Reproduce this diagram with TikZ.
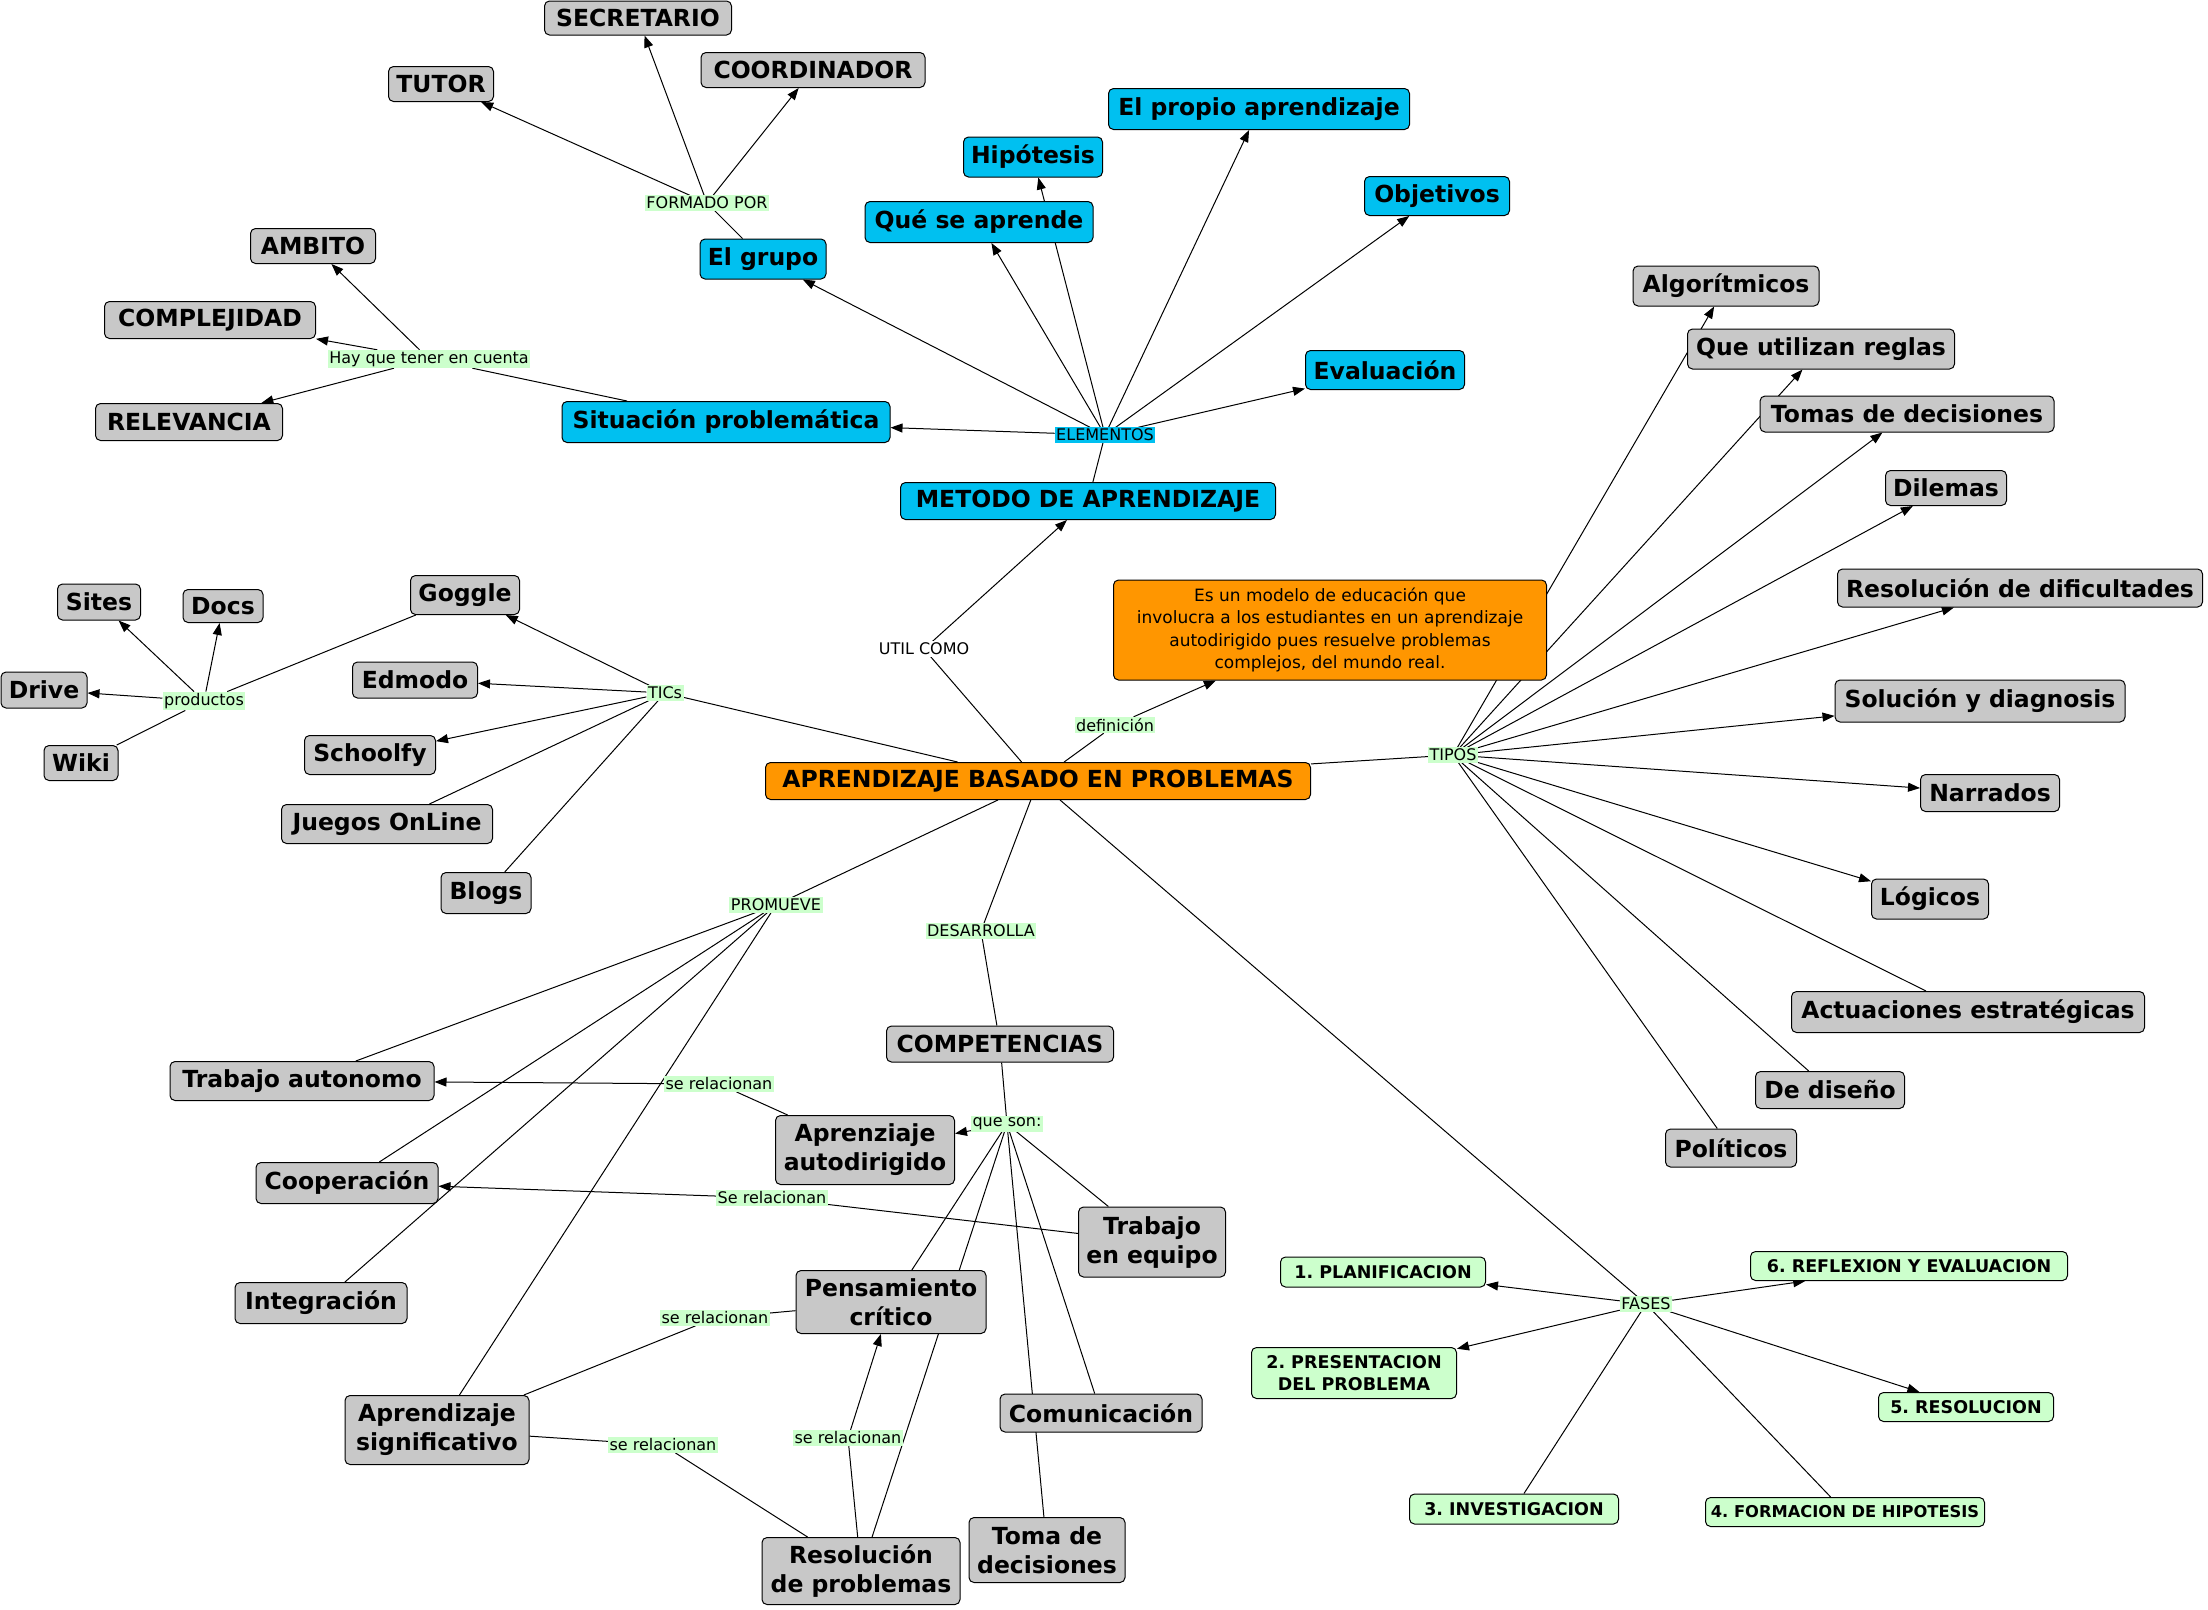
\documentclass[tikz,border=0pt]{standalone}
\usepackage{fontspec}
\setmainfont{DejaVu Sans}
\frenchspacing
\usetikzlibrary{arrows.meta,backgrounds}
\definecolor{cgray}{RGB}{200,200,200}
\definecolor{cblue}{RGB}{0,192,240}
\definecolor{corange}{RGB}{255,150,0}
\definecolor{cgreen}{RGB}{204,255,204}
\tikzset{
 box/.style={draw=black, line width=1pt, rounded corners=5pt, inner sep=2pt, align=center,
   font=\fontsize{23.5}{29}\selectfont\bfseries},
 gbox/.style={box, fill=cgray},
 bbox/.style={box, fill=cblue},
 obox/.style={box, fill=corange},
 fbox/.style={box, fill=cgreen, font=\fontsize{17.5}{22}\selectfont\bfseries\frenchspacing},
 fboxs/.style={fbox, inner xsep=1pt, font=\fontsize{16.3}{22}\selectfont\bfseries\frenchspacing},
 mbox/.style={box, fill=corange, font=\fontsize{17}{22.5}\selectfont},
 lnk/.style={fill=cgreen, inner sep=1.5pt, font=\fontsize{16}{18}\selectfont},
 con/.style={line width=1pt},
 arr/.style={con, -{Triangle[length=12pt,width=9pt]}},
}
\newcommand\mkN[7]{\node[#2, minimum width=#5pt, minimum height=#6pt] (#1) at (#3,#4) {#7};}
\newcommand\mkL[5][lnk]{\node[#1] (#2) at (#3,#4) {#5};}
\begin{document}
\begin{tikzpicture}[x=1pt,y=-1pt]
\useasboundingbox (0,0) rectangle (2208,1609);
% concepts
\mkN{secretario}{gbox}{638}{18}{187}{34}{SECRETARIO}
\mkN{coordinador}{gbox}{813}{70}{224}{35}{COORDINADOR}
\mkN{tutor}{gbox}{441}{84}{105}{35}{TUTOR}
\mkN{elgrupo}{bbox}{763}{259}{126}{40}{El grupo}
\mkN{quese}{bbox}{979}{222}{228}{41}{Qué se aprende}
\mkN{hipotesis}{bbox}{1033}{157}{139}{40}{Hipótesis}
\mkN{propio}{bbox}{1259}{109}{301}{41}{El propio aprendizaje}
\mkN{objetivos}{bbox}{1437}{196}{145}{39}{Objetivos}
\mkN{evaluacion}{bbox}{1385}{370}{159}{39}{Evaluación}
\mkN{situacion}{bbox}{726}{422}{328}{41}{Situación problemática}
\mkN{metodo}{bbox}{1088}{501}{375}{37}{METODO DE APRENDIZAJE}
\mkN{ambito}{gbox}{313}{246}{125}{35}{AMBITO}
\mkN{complejidad}{gbox}{210}{320}{211}{37}{COMPLEJIDAD}
\mkN{relevancia}{gbox}{189}{422}{187}{37}{RELEVANCIA}
\mkN{modelo}{mbox}{1330}{630}{433}{100}{Es un modelo de educación que\\involucra a los estudiantes en un aprendizaje\\autodirigido pues resuelve problemas\\complejos, del mundo real.}
\mkN{abp}{obox}{1038}{781}{545}{37}{APRENDIZAJE BASADO EN PROBLEMAS}
\mkN{goggle}{gbox}{465}{595}{109}{39}{Goggle}
\mkN{edmodo}{gbox}{415}{680}{125}{36}{Edmodo}
\mkN{schoolfy}{gbox}{370}{755}{131}{39}{Schoolfy}
\mkN{juegos}{gbox}{387}{824}{211}{39}{Juegos OnLine}
\mkN{blogs}{gbox}{486}{893}{90}{41}{Blogs}
\mkN{sites}{gbox}{99}{602}{83}{36}{Sites}
\mkN{docs}{gbox}{223}{606}{80}{33}{Docs}
\mkN{drive}{gbox}{44}{690}{86}{36}{Drive}
\mkN{wiki}{gbox}{81}{763}{74}{35}{Wiki}
\mkN{algoritmicos}{gbox}{1726}{286}{186}{40}{Algorítmicos}
\mkN{reglas}{gbox}{1821}{349}{267}{40}{Que utilizan reglas}
\mkN{tomas}{gbox}{1907}{414}{294}{36}{Tomas de decisiones}
\mkN{dilemas}{gbox}{1946}{488}{121}{35}{Dilemas}
\mkN{resdif}{gbox}{2020}{588}{365}{38}{Resolución de dificultades}
\mkN{solucion}{gbox}{1980}{701}{290}{42}{Solución y diagnosis}
\mkN{narrados}{gbox}{1990}{793}{139}{37}{Narrados}
\mkN{logicos}{gbox}{1930}{899}{117}{40}{Lógicos}
\mkN{actuaciones}{gbox}{1968}{1012}{353}{41}{Actuaciones estratégicas}
\mkN{diseno}{gbox}{1830}{1090}{149}{37}{De diseño}
\mkN{politicos}{gbox}{1731}{1148}{131}{38}{Políticos}
\mkN{fa}{fbox}{1383}{1272}{205}{30}{1. PLANIFICACION}
\mkN{fb}{fbox}{1354}{1373}{205}{51}{2. PRESENTACION\\DEL PROBLEMA}
\mkN{fc}{fbox}{1514}{1509}{209}{30}{3. INVESTIGACION}
\mkN{fd}{fboxs}{1845}{1512}{279}{29}{4. FORMACION DE HIPOTESIS}
\mkN{fe}{fbox}{1966}{1407}{175}{29}{5. RESOLUCION}
\mkN{ff}{fbox}{1909}{1266}{317}{29}{6. REFLEXION Y EVALUACION}
\mkN{competencias}{gbox}{1000}{1044}{227}{36}{COMPETENCIAS}
\mkN{trabauto}{gbox}{302}{1081}{264}{39}{Trabajo autonomo}
\mkN{aprauto}{gbox}{865}{1150}{179}{69}{Aprenziaje\\autodirigido}
\mkN{cooperacion}{gbox}{347}{1183}{182}{41}{Cooperación}
\mkN{trabequipo}{gbox}{1152}{1242}{147}{70}{Trabajo\\en equipo}
\mkN{integracion}{gbox}{321}{1303}{172}{41}{Integración}
\mkN{pensamiento}{gbox}{891}{1302}{190}{63}{Pensamiento\\crítico}
\mkN{aprsig}{gbox}{437}{1430}{184}{69}{Aprendizaje\\significativo}
\mkN{comunicacion}{gbox}{1101}{1413}{202}{38}{Comunicación}
\mkN{toma}{gbox}{1047}{1550}{156}{65}{Toma de\\decisiones}
\mkN{resprob}{gbox}{861}{1571}{198}{67}{Resolución\\de problemas}
% linking phrases
\mkL{formado}{707}{203}{FORMADO POR}
\mkL[lnk,fill=cblue]{elementos}{1105}{435}{ELEMENTOS}
\mkL{hayque}{429}{359}{Hay que tener en cuenta}
\mkL[lnk,fill=white]{util}{924}{649}{UTIL COMO}
\mkL{definicion}{1115}{725}{definición}
\mkL{tics}{665}{693}{TICs}
\mkL{productos}{204}{701}{productos}
\mkL{tipos}{1453}{755}{TIPOS}
\mkL{fases}{1646}{1304}{FASES}
\mkL{promueve}{776}{905}{PROMUEVE}
\mkL{desarrolla}{981}{931}{DESARROLLA}
\mkL{queson}{1007}{1124}{que son:}
\mkL{sra}{719}{1084}{se relacionan}
\mkL{srb}{772}{1198}{Se relacionan}
\mkL{src}{715}{1318}{se relacionan}
\mkL{srd}{663}{1445}{se relacionan}
\mkL{sre}{848}{1438}{se relacionan}
% connectors
\begin{scope}[on background layer]
\fill[white] (0,0) rectangle (2208,1609);
\draw[con] (elgrupo) -- (formado);
\foreach \t in {tutor,secretario,coordinador} \draw[arr] (formado) -- (\t);
\draw[con] (metodo) -- (elementos);
\foreach \t in {elgrupo,quese,hipotesis,propio,objetivos,evaluacion,situacion} \draw[arr] (elementos) -- (\t);
\draw[con] (situacion) -- (hayque);
\foreach \t in {ambito,complejidad,relevancia} \draw[arr] (hayque) -- (\t);
\draw[con] (abp) -- (util);
\draw[arr] (util) -- (metodo);
\draw[con] (abp) -- (definicion);
\draw[arr] (definicion) -- (modelo);
\draw[con] (abp) -- (tics);
\foreach \t in {goggle,edmodo,schoolfy} \draw[arr] (tics) -- (\t);
\foreach \t in {juegos,blogs} \draw[con] (tics) -- (\t);
\draw[con] (goggle) -- (productos);
\foreach \t in {sites,docs,drive} \draw[arr] (productos) -- (\t);
\draw[con] (productos) -- (wiki);
\draw[con] (abp) -- (tipos);
\foreach \t in {algoritmicos,reglas,tomas,dilemas,resdif,solucion,narrados,logicos} \draw[arr] (tipos) -- (\t);
\foreach \t in {actuaciones,diseno,politicos} \draw[con] (tipos) -- (\t);
\draw[con] (abp) -- (fases);
\foreach \t in {fa,fb,fe,ff} \draw[arr] (fases) -- (\t);
\foreach \t in {fc,fd} \draw[con] (fases) -- (\t);
\draw[con] (abp) -- (promueve);
\foreach \t in {trabauto,cooperacion,integracion,aprsig} \draw[con] (promueve) -- (\t);
\draw[con] (abp) -- (desarrolla) -- (competencias);
\draw[con] (competencias) -- (queson);
\draw[arr] (queson) -- (aprauto);
\foreach \t in {trabequipo,pensamiento,resprob,comunicacion,toma} \draw[con] (queson) -- (\t);
\draw[con] (aprauto) -- (sra);
\draw[arr] (sra) -- (trabauto);
\draw[con] (trabequipo) -- (srb);
\draw[arr] (srb) -- (cooperacion);
\draw[con] (pensamiento) -- (src) -- (aprsig);
\draw[con] (aprsig) -- (srd) -- (resprob);
\draw[con] (resprob) -- (sre);
\draw[arr] (sre) -- (pensamiento);
\end{scope}
\end{tikzpicture}
\end{document}
